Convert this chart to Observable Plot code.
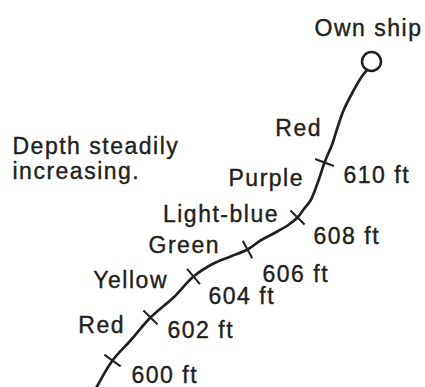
<!DOCTYPE html>
<html>
<head>
<meta charset="utf-8">
<script src="https://cdn.jsdelivr.net/npm/d3@7"></script>
<script src="https://cdn.jsdelivr.net/npm/@observablehq/plot@0.6"></script>
<style>
  html, body { margin: 0; padding: 0; background: #fff; }
  #chart svg text { letter-spacing: 1.5px; }
</style>
</head>
<body>
<div id="chart"></div>
<script>
// Ship track (diagram units: x east, y south from top)
const trackX = [369, 362, 352, 343, 337, 332, 324, 318, 310, 303, 297, 287, 273, 260, 247, 230, 213, 193, 173, 150, 130, 112, 96];
const trackY = [67, 75, 92, 110, 127, 143, 162, 180, 200, 209, 217, 225, 233, 240, 249, 256, 263, 276, 297, 317, 340, 360, 387];

// Depth marks along the track
const depths = [600, 602, 604, 606, 608, 610];
const depthTickX = [112, 150, 193, 247, 297, 324];
const depthTickY = [360, 317, 276, 249, 217, 162];
const depthLabelX = [131, 167, 208, 262, 313, 343];
const depthLabelY = [382, 337, 303, 281, 243, 182];

// Colour zones shown on the sounder
const colourNames = ["Red", "Yellow", "Green", "Light-blue", "Purple", "Red"];
const colourLabelX = [123, 166, 218, 277, 302, 320];
const colourLabelY = [332, 287, 252, 221, 185, 135];

// Own ship
const shipX = [371];
const shipY = [61];
const shipLabel = ["Own ship"];
const shipLabelX = [368];
const shipLabelY = [35];

// Note
const noteLines = ["Depth steadily", "increasing."];
const noteX = [12];
const noteY = [178];

const ink = "#231f20";
const font = "'Liberation Sans', Arial, Helvetica, sans-serif";

const track = trackX.map((x, i) => ({x, y: trackY[i]}));

// Short cross-ticks perpendicular to the track (diagram units are 1:1 with pixels)
const half = 10;
const ticks = depths.map((d, i) => {
  const x = depthTickX[i], y = depthTickY[i];
  const k = d3.minIndex(track, p => (p.x - x) ** 2 + (p.y - y) ** 2);
  const a = track[Math.max(0, k - 1)], b = track[Math.min(track.length - 1, k + 1)];
  let tx = b.x - a.x, ty = b.y - a.y;
  const L = Math.hypot(tx, ty); tx /= L; ty /= L;
  return {depth: d, x1: x + half * ty, y1: y - half * tx, x2: x - half * ty, y2: y + half * tx};
});

const depthLabels = depths.map((d, i) => ({x: depthLabelX[i], y: depthLabelY[i], text: `${d} ft`}));
const colourLabels = colourNames.map((c, i) => ({x: colourLabelX[i], y: colourLabelY[i], text: c}));
const ship = shipX.map((x, i) => ({x, y: shipY[i]}));
const shipText = shipLabel.map((t, i) => ({x: shipLabelX[i], y: shipLabelY[i], text: t}));
const note = [{x: noteX[0], y: noteY[0], text: noteLines.join("\n")}];

const textStyle = {fontSize: 23, fill: ink, stroke: ink, strokeWidth: 0.4, fontFamily: font, lineAnchor: "bottom"};

const chart = Plot.plot({
  width: 425,
  height: 387,
  margin: 0,
  x: {domain: [0, 425], axis: null},
  y: {domain: [0, 387], reverse: true, axis: null},
  style: {background: "#fff", fontFamily: font},
  marks: [
    Plot.line(track, {x: "x", y: "y", curve: "catmull-rom", stroke: ink, strokeWidth: 2.7}),
    Plot.link(ticks, {x1: "x1", y1: "y1", x2: "x2", y2: "y2", stroke: ink, strokeWidth: 2}),
    Plot.dot(ship, {x: "x", y: "y", r: 9.5, stroke: ink, strokeWidth: 2.5, fill: "white"}),
    Plot.text(shipText, {x: "x", y: "y", text: "text", textAnchor: "middle", ...textStyle}),
    Plot.text(depthLabels, {x: "x", y: "y", text: "text", textAnchor: "start", ...textStyle}),
    Plot.text(colourLabels, {x: "x", y: "y", text: "text", textAnchor: "end", dx: 1.5, ...textStyle}),
    Plot.text(note, {x: "x", y: "y", text: "text", textAnchor: "start", lineHeight: 1.05, ...textStyle})
  ]
});
document.getElementById("chart").appendChild(chart);
</script>
</body>
</html>
